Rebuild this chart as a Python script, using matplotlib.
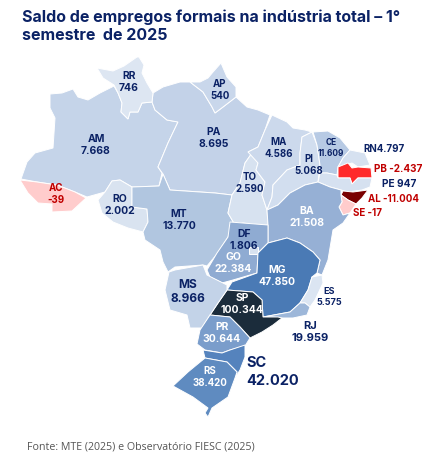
import matplotlib
matplotlib.use("Agg")
import matplotlib.pyplot as plt
from matplotlib.patches import Polygon

# saldo por estado
states = ["AM", "PA", "RR", "AP", "AC", "RO", "MT", "TO", "MA", "PI", "CE", "RN", "PB", "PE", "AL", "SE",
          "BA", "GO", "DF", "MG", "ES", "RJ", "SP", "MS", "PR", "SC", "RS"]
values = [7668, 8695, 746, 540, -39, 2002, 13770, 2590, 4586, 5068, 11609, 4797, -2437, 947, -11004, -17,
          21508, 22384, 1806, 47850, 5575, 19959, 100344, 8966, 30644, 42020, 38420]
fills = ["#c5d4e9", "#c3d2e8", "#dde6f2", "#c9d7eb", "#ffcccc", "#d9e3f0", "#b1c6e0", "#d7e2f0", "#ccd9ec",
         "#d2deef", "#b7cae4", "#d6e1f0", "#ff2a2a", "#d6e1f0", "#7a0000", "#ffcccc",
         "#96b0d5", "#8fabd2", "#d7e2f0", "#4a7ab5", "#dbe5f2", "#9db7d9", "#1b2c3b", "#c3d3e8", "#7a9dcb",
         "#5583bd", "#5f8bc0"]

# contornos em pixels da imagem
shapes = {
    "AM": [(50,94),(62,93),(73,89),(78,97),(88,100),(100,93),(114,86),(118,93),(122,103),(121,112),(128,119),
           (130,112),(138,112),(142,103),(152,102),(155,110),(167,120),(178,122),(168,143),(158,167),(162,173),
           (159,186),(132,187),(120,180),(112,181),(105,192),(87,197),(75,192),(57,185),(37,182),(21,179),
           (27,162),(35,153),(53,148),(55,118),(50,108)],
    "PA": [(153,93),(163,87),(180,82),(190,82),(203,92),(212,107),(215,113),(223,107),(236,97),(247,107),
           (258,110),(270,115),(265,130),(258,147),(248,152),(252,153),(245,163),(240,183),(232,195),(215,193),
           (170,190),(163,174),(158,167),(168,143),(178,122),(167,120),(155,110),(152,102)],
    "RR": [(97,68),(113,71),(124,66),(137,57),(139,57),(144,65),(142,73),(147,83),(153,93),(152,102),(142,103),
           (138,112),(130,112),(128,119),(121,112),(122,103),(118,93),(114,85),(103,78)],
    "AP": [(190,82),(200,82),(208,78),(213,72),(221,63),(227,77),(236,87),(236,97),(223,107),(215,113),
           (212,107),(203,92)],
    "AC": [(20,180),(37,182),(57,185),(75,192),(86,198),(72,211),(52,212),(52,204),(38,203),(28,193)],
    "RO": [(112,181),(120,180),(132,187),(132,207),(147,209),(148,222),(143,232),(128,228),(113,222),(102,213),
           (98,200),(105,192)],
    "MT": [(132,187),(159,186),(163,174),(170,190),(215,193),(232,195),(228,213),(235,225),(228,237),(217,254),
           (207,266),(203,265),(175,267),(168,272),(163,262),(160,250),(145,240),(143,232),(148,222),(147,209),
           (132,207)],
    "TO": [(252,153),(258,163),(256,170),(265,182),(262,195),(267,210),(268,225),(257,225),(243,223),(235,225),
           (228,213),(232,195),(240,183),(245,163)],
    "MA": [(272,115),(287,122),(293,128),(305,130),(312,132),(302,137),(300,153),(300,165),(287,170),(273,185),
           (272,197),(267,210),(262,195),(265,182),(256,170),(258,163),(248,152),(258,147),(265,130)],
    "PI": [(312,132),(317,145),(320,165),(318,182),(305,185),(290,193),(278,205),(267,210),(272,197),(273,185),
           (287,170),(300,165),(300,153),(302,137)],
    "CE": [(313,132),(328,131),(340,138),(350,150),(343,158),(338,167),(337,175),(327,173),(320,173),(320,165),
           (317,145)],
    "RN": [(350,150),(365,153),(370,165),(358,167),(352,163),(338,167),(343,158)],
    "PB": [(338,167),(348,163),(352,168),(358,167),(371,168),(372,178),(358,178),(352,184),(350,178),(338,178)],
    "PE": [(320,173),(327,173),(337,175),(338,178),(350,178),(352,184),(358,178),(372,178),(370,187),(362,190),
           (348,192),(341,190),(330,187),(318,182)],
    "AL": [(343,191),(353,192),(368,190),(362,198),(356,204),(348,200),(341,195)],
    "SE": [(341,195),(348,200),(356,204),(350,213),(343,215),(339,207),(342,202)],
    "BA": [(267,210),(278,205),(290,193),(305,185),(318,182),(330,187),(341,190),(341,195),(342,202),(339,207),
           (343,215),(350,213),(343,223),(333,230),(328,260),(322,275),(317,273),(320,260),(313,252),(300,243),
           (287,238),(268,243),(268,225)],
    "GO": [(230,222),(268,225),(268,243),(258,253),(257,273),(233,280),(222,283),(210,277),(207,270),(217,253),
           (228,237)],
    "DF": [(249,247),(258,247),(258,254),(249,254)],
    "MG": [(258,253),(268,243),(287,238),(300,243),(313,252),(320,260),(317,273),(312,277),(308,290),(300,303),
           (290,312),(263,317),(262,300),(253,292),(227,290),(232,282),(257,273)],
    "ES": [(312,277),(322,275),(323,283),(315,300),(310,307),(305,303),(300,303),(308,290)],
    "RJ": [(300,303),(305,303),(310,307),(307,315),(293,318),(282,318),(272,317),(263,317),(290,312)],
    "SP": [(227,290),(253,292),(262,300),(263,317),(278,317),(282,318),(273,325),(262,332),(250,338),(240,327),
           (230,317),(210,315),(218,303)],
    "MS": [(175,270),(203,265),(207,275),(227,285),(227,290),(218,303),(210,315),(202,328),(190,328),(187,315),
           (170,310),(165,290),(169,272)],
    "PR": [(210,315),(230,317),(240,327),(250,338),(245,346),(230,350),(222,353),(205,350),(197,344),(200,330)],
    "SC": [(203,350),(222,353),(230,350),(245,345),(245,357),(240,370),(235,378),(237,372),(227,362),(205,358)],
    "RS": [(205,358),(227,362),(237,372),(235,378),(228,397),(212,408),(208,417),(205,413),(208,408),(193,397),
           (173,386),(188,372)],
}

# posicao do rotulo, tamanho da fonte
label_pos = {
    "RR": (129,82,7.5), "AP": (220,90,7), "AM": (96,145,7.5), "PA": (214,138,7.5), "MA": (279,148,7),
    "CE": (331,148,6), "PI": (309,165,7), "TO": (250,183,7), "BA": (307,217,7.5), "RO": (120,205,7.5),
    "AC": (56,194,7), "MT": (179,220,7.5), "DF": (244,240,7.5), "GO": (233,263,7.5), "MG": (277,276,7.5),
    "SP": (242,304,7.5), "MS": (188,292,8.6), "ES": (329,297,6.5), "RJ": (310,332,8), "PR": (222,333,7.5),
    "SC": (246,372,10.5), "RS": (210,377,7), "RN": (384,149,7), "PB": (398,169,7.2), "PE": (399,184,7.3),
    "AL": (393,199,7), "SE": (368,213,7),
}
one_line = {"RN": "", "PB": " ", "PE": " ", "AL": " ", "SE": " "}
white_text = ["BA", "GO", "MG", "SP", "PR", "RS"]
navy = "#0b2265"
red = "#c00000"

fig = plt.figure(figsize=(4.27, 4.57), dpi=100)
ax = fig.add_axes([0, 0, 1, 1])
ax.set_xlim(0, 427)
ax.set_ylim(457, 0)
ax.axis("off")

for st, fill in zip(states, fills):
    ax.add_patch(Polygon(shapes[st], closed=True, facecolor=fill, edgecolor="white", linewidth=0.7))

for st, val in zip(states, values):
    x, y, size = label_pos[st]
    num = f"{val:,}".replace(",", ".")
    color = red if val < 0 else ("white" if st in white_text else navy)
    if st in one_line:
        txt = st + one_line[st] + num
    else:
        txt = st + "\n" + num
    ha = "left" if st == "SC" else "center"
    ax.text(x, y, txt, ha=ha, va="center", fontsize=size, fontweight="bold", family="Inter", color=color,
            linespacing=1.25 if st != "SC" else 1.35)

ax.text(22, 17, "Saldo de empregos formais na indústria total – 1°", fontsize=11.5, fontweight="bold",
        family="Inter", color="#0b2265", va="center")
ax.text(22, 35, "semestre  de 2025", fontsize=11.5, fontweight="bold", family="Inter", color="#0b2265", va="center")
ax.text(27, 447, "Fonte: MTE (2025) e Observatório FIESC (2025)", fontsize=7.7, family="Open Sans", color="#555555",
        va="center")

fig.savefig("out.png", dpi=100)
